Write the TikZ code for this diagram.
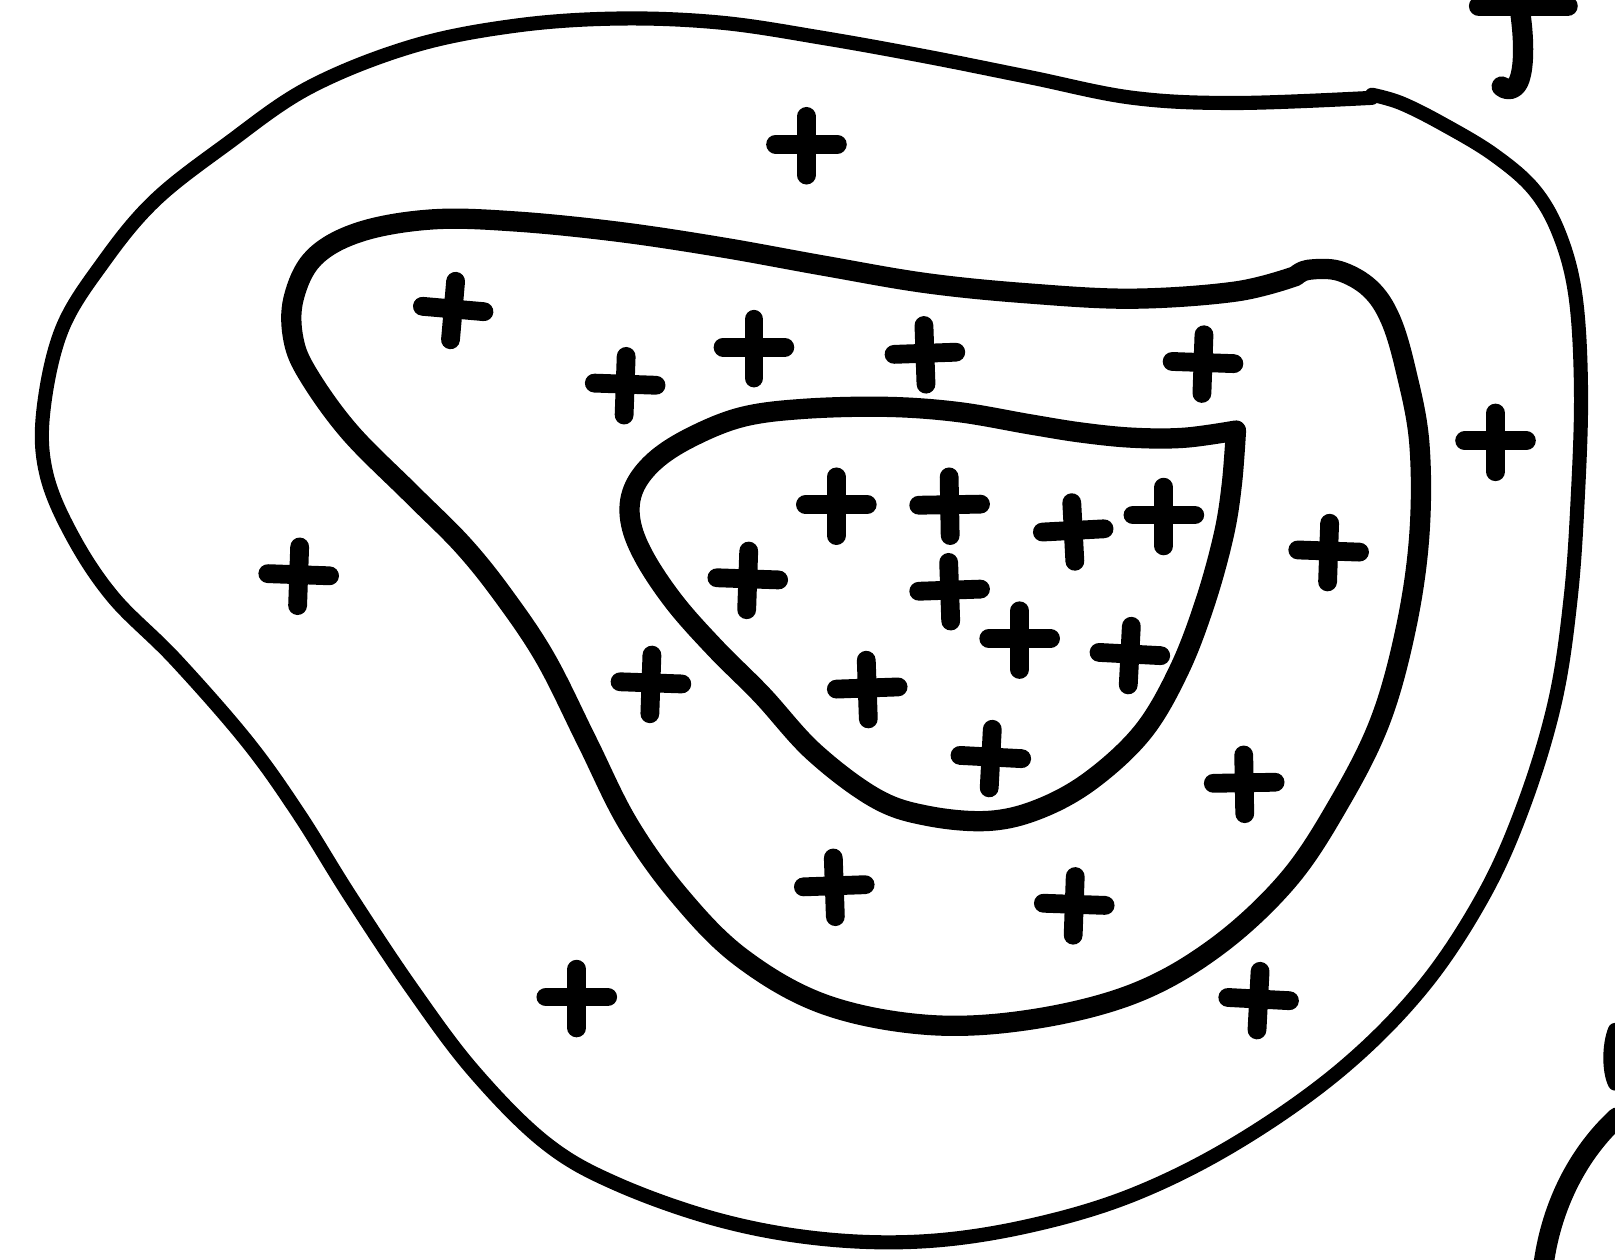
\documentclass[tikz,border=0pt]{standalone}
\usetikzlibrary{calc}
\begin{document}
\begin{tikzpicture}[x=0.1mm, y=-0.1mm, line cap=round, line join=round,
  outerring/.style={line width=3.9pt},
  innerring/.style={line width=5.6pt},
  plusstroke/.style={line width=5.2pt}]
% units: pixels of the sketch, y grows downwards
\useasboundingbox (0,0) rectangle (1568,1223);
% outer loop
\draw[outerring] plot[smooth, tension=0.6] coordinates {(1332,95) (1200,100) (1100,95) (1000,75) (900,55) (800,37) (700,22) (600,18) (500,25) (400,45) (300,85) (220,140) (150,195) (100,255) (60,320) (42,400) (45,460) (70,520) (110,580) (170,640) (240,720) (290,790) (340,870) (400,960) (460,1040) (530,1110) (600,1150) (700,1185) (800,1203) (900,1205) (1000,1190) (1100,1160) (1200,1110) (1300,1040) (1380,960) (1440,870) (1480,780) (1510,680) (1525,580) (1532,480) (1535,380) (1530,290) (1515,230) (1490,185) (1450,150) (1400,120) (1360,100) (1332,92)};
% middle loop
\draw[innerring] plot[smooth, tension=0.6] coordinates {(1258,268) (1200,283) (1100,290) (1000,285) (900,275) (800,258) (700,240) (600,225) (500,215) (420,213) (350,225) (305,250) (285,290) (285,330) (300,365) (340,420) (400,480) (450,530) (490,580) (530,640) (570,720) (610,800) (660,870) (720,930) (800,975) (900,995) (1000,990) (1100,965) (1180,920) (1250,855) (1300,780) (1340,700) (1365,610) (1378,520) (1378,430) (1365,360) (1350,310) (1330,280) (1300,263) (1270,262) (1258,268)};
% inner loop
\draw[innerring] plot[smooth, tension=0.6] coordinates {(1200,418) (1150,425) (1100,425) (1050,420) (1000,412) (930,400) (860,395) (780,397) (720,405) (670,425) (635,448) (615,475) (612,505) (625,540) (655,585) (695,630) (740,675) (790,730) (850,775) (900,792) (960,797) (1010,785) (1060,757) (1110,710) (1145,650) (1170,585) (1188,520) (1196,470) (1200,418)};
% pieces at the right border
\draw[innerring] (1436,6) -- (1522,6);
\draw[innerring] (1476,12) .. controls (1480,40) and (1480,68) .. (1474,80) .. controls (1470,88) and (1462,88) .. (1458,84);
\draw[outerring] (1568,1000) .. controls (1562,1015) and (1562,1040) .. (1568,1052);
\draw[innerring] (1570,1085) .. controls (1532,1120) and (1507,1170) .. (1499,1225);
% plus signs
\foreach \x/\y/\r in {783/140/0, 290/558/-2, 560/968/0, 1452/428/0, 1222/970/-3,
  440/300/-5, 607/373/-2, 732/337/0, 898/343/2, 1168/352/-2, 1290/535/-2, 632/663/-2,
  1208/760/1, 810/860/2, 1043/878/-2,
  812/490/0, 922/490/1, 1042/515/3, 1130/500/0, 726/562/-2, 922/573/2, 990/620/0,
  1097/635/-3, 842/668/2, 962/735/-3}
  { \draw[plusstroke, rotate around={\r:(\x,\y)}] (\x-30,\y) -- (\x+30,\y) (\x,\y-27) -- (\x,\y+30); }
\end{tikzpicture}
\end{document}
